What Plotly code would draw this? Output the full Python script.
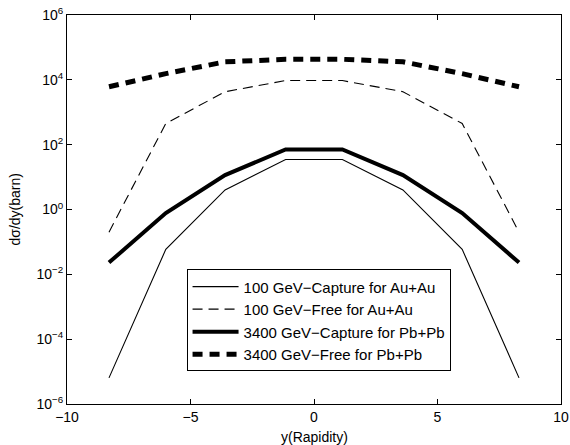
import plotly.graph_objects as go

rapidity = [-8.3, -6.0, -3.6, -1.15, 1.15, 3.6, 6.0, 8.3]
capture_100_auau = [6.4e-6, 0.059, 4.0, 35, 35, 4.0, 0.059, 6.4e-6]
free_100_auau = [0.2, 450, 4300, 9500, 9500, 4300, 450, 0.2]
capture_3400_pbpb = [0.023, 0.78, 11.5, 71, 71, 11.5, 0.78, 0.023]
free_3400_pbpb = [6100, 15500, 36000, 43000, 43000, 36000, 15500, 6100]

series_names = [
    "100 GeV\u2212Capture for Au+Au",
    "100 GeV\u2212Free for Au+Au",
    "3400 GeV\u2212Capture for Pb+Pb",
    "3400 GeV\u2212Free for Pb+Pb",
]

x_tickvals = [-10, -5, 0, 5, 10]
x_ticktext = ["\u221210", "\u22125", "0", "5", "10"]
y_exponents = [-6, -4, -2, 0, 2, 4, 6]

FONT = "Liberation Sans, Arial, Helvetica, sans-serif"

fig = go.Figure()
styles = [
    dict(width=1.1, dash="solid"),
    dict(width=1.1, dash="10px,6px"),
    dict(width=4, dash="solid"),
    dict(width=5, dash="10px,7px"),
]
for name, vals, st in zip(series_names,
                          [capture_100_auau, free_100_auau, capture_3400_pbpb, free_3400_pbpb],
                          styles):
    fig.add_trace(go.Scatter(x=rapidity, y=vals, mode="lines", name=name,
                             line=dict(color="black", width=st["width"], dash=st["dash"])))

fig.update_layout(
    width=570, height=445,
    margin=dict(l=67, r=9, t=15, b=41, autoexpand=False),
    paper_bgcolor="white", plot_bgcolor="white",
    font=dict(family=FONT, size=14, color="black"),
    showlegend=True,
    legend=dict(x=0.242, y=0.346, xanchor="left", yanchor="top",
                bordercolor="black", borderwidth=1, bgcolor="white",
                font=dict(size=15, family=FONT), itemwidth=46,
                tracegroupgap=0),
)
fig.update_xaxes(
    range=[-10, 10], tickvals=x_tickvals, ticktext=x_ticktext,
    showline=True, linecolor="black", linewidth=1, mirror="ticks",
    ticks="inside", ticklen=5, tickcolor="black", showgrid=False, zeroline=False,
    tickfont=dict(size=14), automargin=False,
)
fig.update_yaxes(
    type="log", range=[-6, 6],
    tickvals=[10 ** e for e in y_exponents],
    ticktext=["10<sup>%s</sup>" % (str(e).replace("-", "\u2212")) for e in y_exponents],
    showline=True, linecolor="black", linewidth=1, mirror="ticks",
    ticks="inside", ticklen=5, tickcolor="black", showgrid=False, zeroline=False,
    tickfont=dict(size=14), automargin=False,
)
fig.add_annotation(text="y(Rapidity)", xref="paper", yref="paper", x=0.5, y=0,
                   yshift=-33, xanchor="center", yanchor="middle", showarrow=False,
                   font=dict(size=14))
fig.add_annotation(text="d\u03c3/dy(barn)", xref="paper", yref="paper", x=0, y=0.5,
                   xshift=-53, xanchor="center", yanchor="middle", textangle=-90,
                   showarrow=False, font=dict(size=14))

fig.write_html("out.html", config={"displayModeBar": False},
               post_script="document.body.style.margin='0';document.body.style.overflow='hidden';")
